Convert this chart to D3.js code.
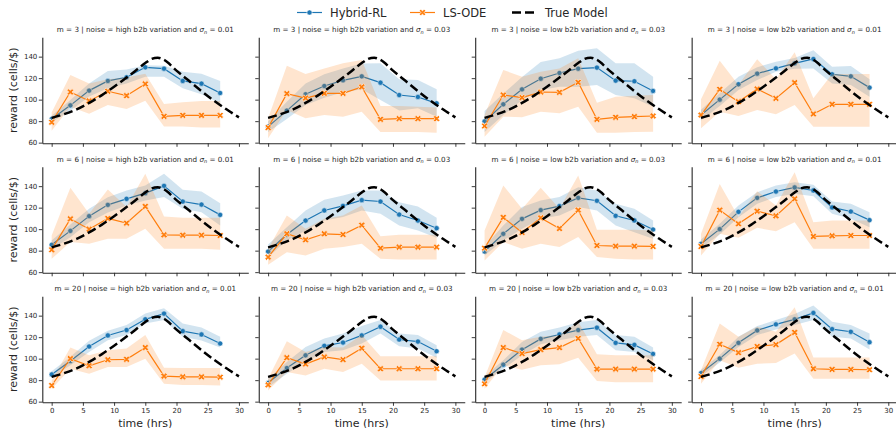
<!DOCTYPE html>
<html>
<head>
<meta charset="utf-8">
<script src="https://cdn.jsdelivr.net/npm/d3@7"></script>
<style>
  body { margin: 0; background: #fff; }
  text { font-family: "DejaVu Sans", sans-serif; fill: #262626; }
</style>
</head>
<body>
<div id="plot"></div>
<script>
// facet labels
const mValues = [3, 6, 20];
const noiseLabels = ["high b2b variation", "high b2b variation", "low b2b variation", "low b2b variation"];
const sigmaLabels = ["0.01", "0.03", "0.03", "0.01"];

const times = [0, 3, 6, 9, 12, 15, 18, 21, 24, 27];
const xTicks = [0, 5, 10, 15, 20, 25, 30];
const yTicks = [60, 80, 100, 120, 140];

// true model curve
const trueT = [0, 2, 4, 6, 8, 10, 12, 14, 15, 16, 17, 18, 20, 22, 24, 26, 28, 30];
const trueY = [83, 86.5, 91, 97, 104, 112, 120.5, 129.5, 134, 137.8, 139, 137, 127, 117.5, 108, 99, 91, 83.5];

// Hybrid-RL, one array per panel (row by row)
const hybridMean = [
  [82, 94.7, 108.4, 117.4, 120.8, 130.1, 128.8, 117.4, 114.9, 106.2],
  [74.9, 89.8, 105, 112.7, 118, 121.7, 115.8, 104.3, 102.5, 96.6],
  [79.8, 95.7, 109.6, 119.5, 124.8, 128.8, 129.8, 117.7, 117.1, 108.1],
  [85.7, 100, 114.3, 124.2, 129.1, 133.8, 137.8, 123.6, 121.7, 111.2],
  [85.4, 98.4, 112.1, 122.6, 128.2, 133.5, 140.3, 125.7, 122.9, 113.3],
  [79.2, 95, 108, 117.4, 121.7, 127, 125.7, 113.6, 108, 100.9],
  [79.2, 95.7, 109.6, 117.7, 121.4, 129.1, 126.4, 112.4, 108.1, 99.7],
  [86.4, 100, 116.1, 129.1, 135, 138.8, 136, 120.2, 116.4, 108.4],
  [85.3, 97.8, 111.3, 121.6, 126.6, 136.6, 141.9, 125.6, 122.5, 114.1],
  [77.5, 91.3, 103.1, 111.9, 115, 121.6, 129.7, 117.8, 115.9, 106.9],
  [80.6, 94.4, 108.4, 118.4, 122.5, 126.6, 128.8, 114.7, 112.8, 104.4],
  [86.6, 100, 114.7, 126.3, 131.9, 136.6, 142.5, 127.5, 125, 115.3]
];
const hybridLo = [
  [79, 89.7, 103, 110.5, 115, 121.4, 121.4, 110.5, 105, 96.6],
  [70, 82, 95, 101.7, 107, 109.7, 99.7, 90, 92, 84],
  [70, 85.7, 99.7, 109, 112, 112.1, 113.6, 104.3, 101.2, 93.5],
  [80.7, 94, 109, 118.2, 126, 128.8, 129, 115, 113.6, 102.8],
  [81.4, 92.4, 106.5, 115.6, 122, 126.7, 129.8, 118.9, 115.8, 103.4],
  [74, 89.5, 98.8, 108, 111.2, 117.4, 114.3, 103.4, 98.8, 92],
  [75.5, 89.5, 100.3, 109.6, 112.7, 120.5, 117.4, 103.4, 97.2, 91],
  [82.4, 95, 111, 123.6, 129.8, 132.9, 130.7, 114.3, 109.6, 101.8],
  [82.3, 93.8, 106.3, 117.2, 121.9, 132.8, 135.9, 120.3, 117, 110.3],
  [73.4, 85.9, 96.9, 106.3, 107.8, 114.1, 123.4, 111.6, 109.4, 100.9],
  [77.6, 90.6, 103.1, 113.4, 117.2, 120.3, 121.9, 107.8, 106.3, 98.4],
  [83.6, 96.5, 110.9, 121.9, 127.2, 131.3, 135.9, 120.3, 118.8, 108.4]
];
const hybridHi = [
  [85, 99.7, 115, 126.7, 128, 132, 131.6, 126, 124, 117.4],
  [80, 98, 115, 123.7, 129, 133.7, 133.8, 119, 118.3, 109.6],
  [89.5, 105.7, 121, 135, 138.5, 145.6, 147.8, 133.8, 133.8, 121.4],
  [90.7, 106, 121.4, 130.2, 135.3, 138.8, 146, 130.7, 131.3, 119],
  [89.4, 104.4, 118.9, 129.6, 136, 140.6, 151.5, 136.6, 135, 124],
  [85.7, 101.8, 117.4, 127.3, 131.3, 136, 136, 125, 121, 110.5],
  [83.9, 103.4, 120.5, 126.7, 129.8, 139, 136, 123.6, 118.9, 108],
  [90.4, 105, 122, 134.4, 140.6, 143.7, 141.2, 125.7, 123.6, 115.8],
  [88.3, 101.8, 116.6, 126, 131.3, 142, 146.9, 132.8, 129, 120.3],
  [81.3, 96.9, 110.9, 118.8, 123.4, 130.3, 136, 123.4, 121.9, 112.5],
  [83.6, 98.4, 115.6, 125, 129, 133.8, 135.9, 121.9, 120.3, 110.3],
  [89.6, 103.5, 120.3, 130.3, 135.9, 141.6, 149.4, 134.4, 131.3, 123.4]
];

// LS-ODE, one array per panel (row by row)
const odeMean = [
  [79, 107.1, 98.8, 107.8, 103.7, 114.6, 84.5, 85.4, 85.4, 85.4],
  [74, 105.6, 101.5, 105.9, 105.9, 111.8, 81.7, 82.3, 82.3, 82.3],
  [75.5, 104.3, 101.9, 107.1, 106.8, 116.1, 81.7, 83.6, 84.2, 84.8],
  [85.7, 109.6, 98.1, 109.9, 101.2, 115.8, 86.7, 95.7, 95.7, 95.7],
  [80.8, 109.6, 100, 109.9, 105.6, 121.1, 94.7, 94.4, 94.4, 94.1],
  [74, 95.7, 90.1, 95.7, 95, 103.7, 82.3, 83.3, 83.3, 83.3],
  [82.3, 110.9, 96.9, 110.5, 100.6, 117.7, 84.8, 84.2, 84.2, 83.9],
  [83.9, 117.7, 105, 116.7, 112.4, 128.2, 93.2, 93.8, 94.1, 94.1],
  [75, 100, 93.4, 99, 99.4, 110.3, 83.8, 83.1, 83.1, 82.8],
  [75.6, 100.9, 95, 101.6, 99.1, 109.7, 90.6, 90.6, 90.6, 90.6],
  [76.6, 110.3, 104.7, 108.4, 110.3, 118.8, 90.3, 90.3, 90.3, 90.3],
  [83.4, 113.4, 105.6, 111.3, 113.1, 124.4, 90.6, 90, 90, 89.7]
];
const odeLo = [
  [71, 93.5, 87, 95, 91.3, 99, 75, 75, 74, 74],
  [64, 90.4, 82.6, 85.7, 84.2, 88.8, 70, 70, 70, 69.3],
  [65.6, 84.2, 83.6, 88.8, 87.3, 93.5, 69.3, 69.3, 69.9, 70.2],
  [73.3, 88.8, 84.8, 90.4, 86.4, 95, 74.9, 74.9, 74.9, 74.9],
  [72.4, 88, 86.4, 91, 91, 100.3, 81.7, 81.7, 81.7, 80.8],
  [66.8, 78.6, 75.5, 81.7, 83.3, 86.4, 72.4, 71.8, 71.8, 71.8],
  [70.9, 88, 81.7, 86.4, 83.3, 92.6, 74, 72.4, 71.8, 71.8],
  [75.5, 95.7, 92, 101.2, 98.1, 106.5, 81.7, 81.7, 81.7, 81.7],
  [71.9, 90.6, 86, 92.2, 92.2, 100, 76.6, 75.6, 75.6, 75],
  [70.3, 87.5, 84.4, 90.6, 87.5, 95.3, 79.7, 79.7, 79.7, 79.7],
  [71.9, 93.8, 89.7, 93.8, 94.7, 100.9, 79.1, 78.1, 78.1, 78.1],
  [76.6, 98.4, 91.6, 95.3, 95.9, 104.7, 81.3, 81.3, 81.3, 81.3]
];
const odeHi = [
  [88, 123, 115, 119, 120.5, 124, 96, 97.5, 98.8, 98.8],
  [82.6, 131.6, 123.9, 129, 133.8, 137, 94, 94, 93.4, 92.8],
  [85.7, 127.6, 121.4, 126, 129, 138.4, 97.2, 102.8, 103.7, 104.3],
  [100.3, 136.3, 113.6, 137.5, 119, 144, 101.2, 123.9, 123.9, 123.9],
  [94.1, 138.4, 114.3, 137, 120.5, 151.5, 111.8, 110.5, 110.5, 110.5],
  [81.7, 112.7, 100.3, 109.6, 112.7, 122, 93.5, 94.7, 94.7, 94.7],
  [98.8, 140.6, 118.9, 138.4, 118.9, 150, 99.4, 99.4, 99.4, 98.8],
  [95.7, 142, 111.2, 135.3, 122, 153, 106.5, 108, 108, 108],
  [79.7, 110.3, 103.1, 107.8, 109.4, 121.9, 91.6, 91.3, 91.3, 91.3],
  [81.3, 116.3, 106.3, 110.9, 110.3, 121.9, 102.2, 102.2, 102.2, 102.2],
  [82.8, 126.6, 117.2, 120.3, 121.9, 134.4, 104.1, 103.1, 103.1, 103.1],
  [89.1, 132.8, 120.3, 129.7, 125, 147.8, 101, 101, 101, 101]
];

const w = 896;
const h = 428;
const blue = "#1f77b4";
const orange = "#ff7f0e";

const panelW = 206;
const panelH = 106;
const colLeft = d3.range(4).map(i => 42.3 + i * 216.45);
const rowTop = [37.3, 166.8, 296.3];

const svg = d3.select("div#plot")
  .append("svg")
  .attr("width", w)
  .attr("height", h);

svg.append("rect")
  .attr("width", w)
  .attr("height", h)
  .attr("fill", "white");

const x = d3.scaleLinear().domain([-1.5, 31.5]).range([0, panelW]);
const y = d3.scaleLinear().domain([59.4, 158]).range([panelH, 0]);

const xSymbol = d3.symbol().type(d3.symbolCross).size(28);

function drawSeries(g, mean, lo, hi, color, marker) {
  const pts = times.map((t, i) => ({t: t, m: mean[i], lo: lo[i], hi: hi[i]}));

  g.append("path")
    .attr("d", d3.line().x(d => x(d.t)).y(d => y(d.m))(pts))
    .attr("fill", "none")
    .attr("stroke", color)
    .attr("stroke-width", 1.2);

  if (marker === "circle") {
    g.selectAll(null).data(pts).enter().append("circle")
      .attr("cx", d => x(d.t))
      .attr("cy", d => y(d.m))
      .attr("r", 2.6)
      .attr("fill", color)
      .attr("stroke", "white")
      .attr("stroke-width", 0.6);
  } else {
    g.selectAll(null).data(pts).enter().append("path")
      .attr("d", xSymbol)
      .attr("transform", d => `translate(${x(d.t)},${y(d.m)}) rotate(45)`)
      .attr("fill", color)
      .attr("stroke", "white")
      .attr("stroke-width", 0.8);
  }

  g.append("path")
    .attr("d", d3.area().x(d => x(d.t)).y0(d => y(d.lo)).y1(d => y(d.hi))(pts))
    .attr("fill", color)
    .attr("fill-opacity", 0.2)
    .attr("stroke", "none");
}

for (let r = 0; r < 3; r++) {
  for (let c = 0; c < 4; c++) {
    const k = r * 4 + c;
    const g = svg.append("g")
      .attr("transform", `translate(${colLeft[c]},${rowTop[r]})`);

    drawSeries(g, hybridMean[k], hybridLo[k], hybridHi[k], blue, "circle");
    drawSeries(g, odeMean[k], odeLo[k], odeHi[k], orange, "x");

    g.append("path")
      .attr("d", d3.line().curve(d3.curveMonotoneX)
        .x((t, i) => x(t)).y((t, i) => y(trueY[i]))(trueT))
      .attr("fill", "none")
      .attr("stroke", "black")
      .attr("stroke-width", 2.5)
      .attr("stroke-dasharray", "9,4");

    // axes
    const xAxis = d3.axisBottom(x).tickValues(xTicks).tickSize(3.5).tickSizeOuter(0).tickPadding(2.5);
    if (r < 2) xAxis.tickFormat(() => "");
    const gx = g.append("g")
      .attr("transform", `translate(0,${panelH})`)
      .call(xAxis);

    const yAxis = d3.axisLeft(y).tickValues(yTicks).tickSize(3.5).tickSizeOuter(0).tickPadding(1.5);
    if (c > 0) yAxis.tickFormat(() => "");
    const gy = g.append("g").call(yAxis);

    [gx, gy].forEach(a => {
      a.select(".domain").attr("stroke", "#262626").attr("stroke-width", 1.1);
      a.selectAll(".tick line").attr("stroke", "#262626").attr("stroke-width", 0.9);
      a.selectAll(".tick text")
        .attr("font-family", "DejaVu Sans")
        .attr("font-size", 7)
        .attr("fill", "#262626");
    });

    // panel title
    const title = g.append("text")
      .attr("x", panelW / 2)
      .attr("y", -5)
      .attr("text-anchor", "middle")
      .attr("font-size", 7.2);
    title.append("tspan").text(`m = ${mValues[r]} | noise = ${noiseLabels[c]} and `);
    title.append("tspan").attr("font-style", "italic").text("σ");
    title.append("tspan").attr("font-style", "italic").attr("font-size", 5).attr("dy", 1.5).text("n");
    title.append("tspan").attr("dy", -1.5).text(` = ${sigmaLabels[c]}`);

    if (c === 0) {
      svg.append("text")
        .attr("transform", `translate(17,${rowTop[r] + panelH / 2}) rotate(-90)`)
        .attr("text-anchor", "middle")
        .attr("font-size", 11)
        .text("reward (cells/$)");
    }
    if (r === 2) {
      svg.append("text")
        .attr("x", colLeft[c] + x(15))
        .attr("y", 426.5)
        .attr("text-anchor", "middle")
        .attr("font-size", 11)
        .text("time (hrs)");
    }
  }
}

// legend
const legendItems = [
  {label: "Hybrid-RL", color: blue, x0: 297, kind: "circle"},
  {label: "LS-ODE", color: orange, x0: 410, kind: "x"},
  {label: "True Model", color: "black", x0: 512, kind: "dash"}
];
const legendY = 12.5;
legendItems.forEach(d => {
  const lg = svg.append("g");
  lg.append("line")
    .attr("x1", d.x0).attr("x2", d.x0 + 25)
    .attr("y1", legendY).attr("y2", legendY)
    .attr("stroke", d.color)
    .attr("stroke-width", d.kind === "dash" ? 2.5 : 1.2)
    .attr("stroke-dasharray", d.kind === "dash" ? "9,4" : null);
  if (d.kind === "circle") {
    lg.append("circle").attr("cx", d.x0 + 12.5).attr("cy", legendY).attr("r", 2.6)
      .attr("fill", d.color).attr("stroke", "white").attr("stroke-width", 0.6);
  } else if (d.kind === "x") {
    lg.append("path").attr("d", xSymbol)
      .attr("transform", `translate(${d.x0 + 12.5},${legendY}) rotate(45)`)
      .attr("fill", d.color).attr("stroke", "white").attr("stroke-width", 0.8);
  }
  lg.append("text")
    .attr("x", d.x0 + 33)
    .attr("y", legendY + 4)
    .attr("font-size", 11.5)
    .text(d.label);
});
</script>
</body>
</html>
